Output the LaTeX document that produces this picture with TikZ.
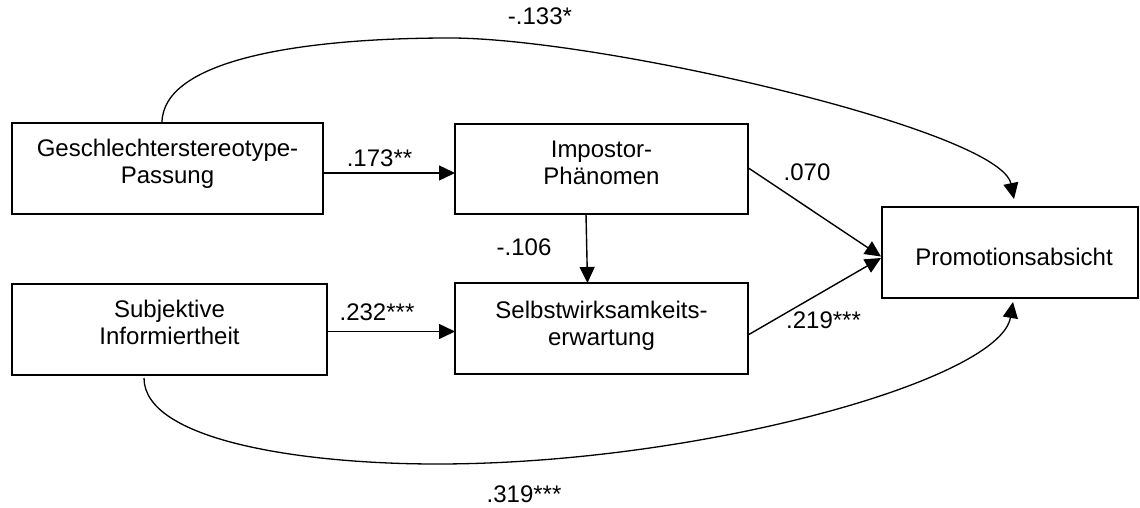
\documentclass[tikz,border=0pt]{standalone}
\usepackage{fontspec}
\setmainfont{Liberation Sans}
\usetikzlibrary{arrows.meta}
\begin{document}
\begin{tikzpicture}[x=1pt,y=-1pt,
  font=\fontsize{24}{27}\selectfont,
  box/.style={draw=black, line width=1.8pt, outer sep=0pt, inner sep=0pt, minimum height=91pt},
  boxtext/.style={align=center, inner sep=0pt},
  coef/.style={inner sep=0pt},
  link/.style={line width=1.4pt, -{Triangle[length=16pt,width=15pt]}},
  arclink/.style={line width=1.3pt, -{Triangle[length=16pt,width=15pt]}}]
\useasboundingbox (0,0) rectangle (1140,508);

% variables
\node[box, minimum width=311pt] (G)  at (167.5,168.5) {};
\node[box, minimum width=315pt] (S)  at (169.5,329.5) {};
\node[box, minimum width=293pt, minimum height=90pt] (I) at (601.5,169) {};
\node[box, minimum width=293pt] (SE) at (601.5,328.5) {};
\node[box, minimum width=256pt] (P)  at (1010,252.5) {};

\node[boxtext] (Gt)  at (167.5,163.3) {Geschlechterstereotype-\\Passung};
\node[boxtext] (St)  at (169.5,322) {Subjektive\\Informiertheit};
\node[boxtext] (It)  at (601.5,162.8) {Impostor-\\Phänomen};
\node[boxtext] (SEt) at (601.5,325.3) {Selbstwirksamkeits-\\erwartung};
\node[boxtext] (Pt)  at (1014,256.8) {Promotionsabsicht};

% direct paths
\draw[link] ([yshift=-4.5pt]G.east) -- ([yshift=-4pt]I.west);
\draw[link] ([yshift=-2pt]S.east) -- ([yshift=-3pt]SE.west);
\draw[link] ([xshift=-15.5pt]I.south) -- ([xshift=-14pt]SE.north);
\draw[link] ([yshift=1.3pt]I.east) -- ([xshift=-1pt,yshift=-4pt]P.west);
\draw[link] ([yshift=-6.5pt]SE.east) -- ([xshift=-1pt,yshift=-5.5pt]P.west);

% curved paths around the mediators
\coordinate (topapex) at (450,38);
\coordinate (botapex) at (437,464);
\draw[arclink] ([xshift=-5.5pt]G.north) .. controls (162,60) and (300,38) .. (topapex)
  .. controls (600,38) and (1000,130) .. ([xshift=4pt,yshift=8pt]P.north);
\draw[arclink] ([xshift=-25.5pt,yshift=-3pt]S.south) .. controls (144,440) and (300,464) .. (botapex)
  .. controls (700,464) and (1000,380) .. ([xshift=3pt,yshift=-4pt]P.south);

% path coefficients
\node[coef] (c173) at (379.5,158) {.173**};
\node[coef] (c232) at (377,312) {.232***};
\node[coef] (c106) at (524,247.5) {-.106};
\node[coef] (c070) at (807,172) {.070};
\node[coef] (c219) at (823.5,320.5) {.219***};
\node[coef] (c133) at (540,16.5) {-.133*};
\node[coef] (c319) at (524,494) {.319***};
\end{tikzpicture}
\end{document}
